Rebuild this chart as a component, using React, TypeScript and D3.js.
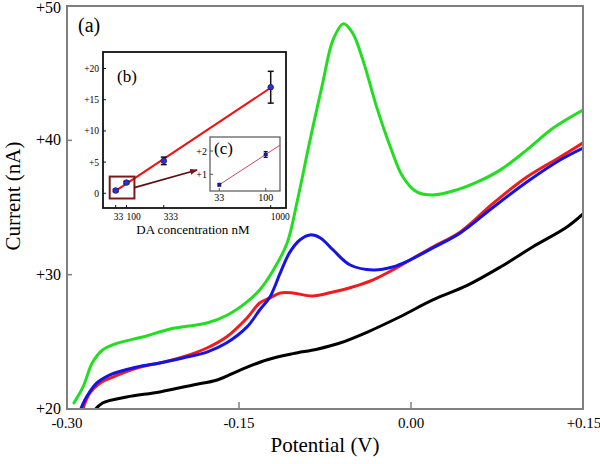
import React from "react";
import * as d3 from "d3";

// main voltammograms: [potential V, current nA]
const greenCurve: [number, number][] = [
  [-0.294, 20.45], [-0.286, 21.64], [-0.278, 23.43], [-0.269, 24.39], [-0.258, 24.84],
  [-0.242, 25.2], [-0.230, 25.45], [-0.210, 25.96], [-0.178, 26.40], [-0.160, 27.0],
  [-0.143, 27.97], [-0.132, 28.86], [-0.120, 30.35], [-0.108, 32.36], [-0.099, 35.56],
  [-0.088, 40.03], [-0.077, 44.27], [-0.068, 47.48], [-0.059, 48.67], [-0.051, 48.0],
  [-0.042, 45.99], [-0.030, 42.49], [-0.018, 39.51], [-0.007, 37.27], [0.005, 36.16],
  [0.019, 35.93], [0.040, 36.31], [0.058, 36.90], [0.078, 37.80], [0.101, 39.29],
  [0.124, 40.92], [0.150, 42.26],
];
const blueCurve: [number, number][] = [
  [-0.289, 19.8], [-0.283, 20.89], [-0.274, 21.94], [-0.263, 22.53], [-0.239, 23.13],
  [-0.219, 23.43], [-0.199, 23.80], [-0.178, 24.24], [-0.161, 24.91], [-0.143, 26.11],
  [-0.132, 27.37], [-0.123, 28.34], [-0.114, 30.13], [-0.106, 31.62], [-0.097, 32.58],
  [-0.088, 32.96], [-0.079, 32.73], [-0.068, 31.84], [-0.053, 30.72], [-0.033, 30.35],
  [-0.016, 30.57], [-0.001, 31.09], [0.019, 31.99], [0.043, 33.11], [0.072, 35.04],
  [0.101, 36.90], [0.130, 38.54], [0.150, 39.43],
];
const redCurve: [number, number][] = [
  [-0.287, 19.8], [-0.280, 21.19], [-0.271, 21.94], [-0.260, 22.38], [-0.239, 23.05],
  [-0.219, 23.43], [-0.199, 23.87], [-0.178, 24.54], [-0.161, 25.36], [-0.143, 26.78],
  [-0.132, 27.89], [-0.123, 28.27], [-0.114, 28.64], [-0.103, 28.64], [-0.086, 28.41],
  [-0.068, 28.71], [-0.051, 29.08], [-0.033, 29.61], [-0.016, 30.35], [-0.001, 31.09],
  [0.019, 32.06], [0.043, 33.18], [0.072, 35.34], [0.101, 37.27], [0.130, 38.76],
  [0.150, 39.81],
];
const blackCurve: [number, number][] = [
  [-0.277, 19.8], [-0.269, 20.45], [-0.248, 20.89], [-0.219, 21.27], [-0.190, 21.79],
  [-0.169, 22.16], [-0.149, 22.90], [-0.126, 23.65], [-0.103, 24.12], [-0.082, 24.45],
  [-0.062, 24.91], [-0.038, 25.73], [-0.010, 26.85], [0.019, 28.12], [0.049, 29.20],
  [0.078, 30.57], [0.106, 32.06], [0.136, 33.55], [0.150, 34.52],
];

const xTicks = [-0.30, -0.15, 0.0, 0.15];
const xTickLabels = ["-0.30", "-0.15", "0.00", "+0.15"];
const yTicks = [20, 30, 40, 50];
const yTickLabels = ["+20", "+30", "+40", "+50"];

// inset (b): calibration
const daConc = [33, 100, 333, 1000];
const daCurrent = [0.45, 1.72, 5.2, 17.0];
const daError = [0.2, 0.2, 0.6, 2.55];
const bYTicks = [0, 5, 10, 15, 20];
const bYLabels = ["0", "+5", "+10", "+15", "+20"];

// inset (c): zoom of the two lowest concentrations
const cConc = [33, 100];
const cCurrent = [0.55, 1.85];
const cError = [0.0, 0.13];
const cYTicks = [1, 2];
const cYLabels = ["+1", "+2"];

const serif = "'Times New Roman', 'Liberation Serif', serif";

export default function App() {
  const x = d3.scaleLinear().domain([-0.30, 0.15]).range([67, 583]);
  const y = d3.scaleLinear().domain([20, 50]).range([409, 6]);

  const line = d3.line<[number, number]>()
    .x(d => x(d[0]))
    .y(d => y(d[1]))
    .curve(d3.curveCatmullRom.alpha(0.5));

  const series = [
    { data: blackCurve, color: "#000000" },
    { data: redCurve, color: "#ee1c1c" },
    { data: blueCurve, color: "#1414e6" },
    { data: greenCurve, color: "#22dd22" },
  ];

  // inset b scales
  const b = { left: 103, top: 52, right: 286, bottom: 208 };
  const xb = d3.scaleLinear().domain([0, 1000]).range([110.4, 270.7]);
  const yb = d3.scaleLinear().domain([0, 20]).range([193.3, 68.5]);

  const mx = d3.mean(daConc)!;
  const my = d3.mean(daCurrent)!;
  const sxy = d3.sum(daConc.map((c, i) => (c - mx) * (daCurrent[i] - my)));
  const sxx = d3.sum(daConc.map(c => (c - mx) ** 2));
  const slope = sxy / sxx;
  const icpt = my - slope * mx;
  const fit = (c: number) => icpt + slope * c;

  // inset c scales
  const c = { left: 210, top: 137, right: 280, bottom: 191 };
  const xc = d3.scaleLinear().domain([33, 100]).range([219.3, 265.7]);
  const yc = d3.scaleLinear().domain([1, 2]).range([174.3, 151]);
  const cSlope = (cCurrent[1] - cCurrent[0]) / (cConc[1] - cConc[0]);
  const cEnd = xc.invert(c.right);
  const cFit = (v: number) => cCurrent[0] + cSlope * (v - cConc[0]);

  // highlight box around first two points
  const boxX0 = xb(daConc[0]) - 6;
  const boxX1 = xb(daConc[1]) + 8;
  const boxY0 = yb(daCurrent[1]) - 6;
  const boxY1 = yb(daCurrent[0]) + 8;

  return (
    <svg width={600} height={464}
      style={{ position: "absolute", left: 0, top: 0, background: "#fff", fontFamily: serif }}>
      <defs>
        <clipPath id="plotclip">
          <rect x={67} y={6} width={516} height={403} />
        </clipPath>
        <marker id="arrowhead" markerWidth={8} markerHeight={6} refX={7} refY={3} orient="auto"
          markerUnits="userSpaceOnUse">
          <path d="M0,0 L8,3 L0,6 Z" fill="#7a1515" />
        </marker>
      </defs>

      <g clipPath="url(#plotclip)">
        {series.map((s, i) => (
          <path key={i} d={line(s.data) ?? ""} fill="none" stroke={s.color} strokeWidth={3}
            strokeLinejoin="round" strokeLinecap="round" />
        ))}
      </g>

      {/* main frame */}
      <rect x={67} y={6} width={516} height={403} fill="none" stroke="#7f7f7f" strokeWidth={2} />
      {xTicks.slice(1, -1).map(t => (
        <line key={t} x1={x(t)} x2={x(t)} y1={409} y2={402} stroke="#7f7f7f" strokeWidth={1.5} />
      ))}
      {yTicks.slice(1, -1).map(t => (
        <line key={t} x1={67} x2={72} y1={y(t)} y2={y(t)} stroke="#7f7f7f" strokeWidth={1.5} />
      ))}
      {xTicks.map((t, i) => (
        <text key={t} x={i === 3 ? x(t) + 1 : x(t)} y={428} textAnchor="middle" fontSize={15}>
          {xTickLabels[i]}
        </text>
      ))}
      {yTicks.map((t, i) => (
        <text key={t} x={61} y={i === 3 ? y(t) + 7 : y(t) + 5} textAnchor="end" fontSize={16}>
          {yTickLabels[i]}
        </text>
      ))}
      <text x={325} y={452} textAnchor="middle" fontSize={21}>Potential (V)</text>
      <text transform="translate(20,196) rotate(-90)" textAnchor="middle" fontSize={21}>Current (nA)</text>
      <text x={78} y={32} fontSize={20}>(a)</text>

      {/* inset b */}
      <rect x={b.left} y={b.top} width={b.right - b.left} height={b.bottom - b.top} fill="#fff"
        stroke="#111" strokeWidth={1.8} />
      {bYTicks.map((t, i) => (
        <g key={t}>
          <line x1={b.left} x2={b.left + 3} y1={yb(t)} y2={yb(t)} stroke="#111" />
          <text x={99} y={yb(t) + 3.5} textAnchor="end" fontSize={9.5}>{bYLabels[i]}</text>
        </g>
      ))}
      {daConc.map(t => (
        <g key={t}>
          <line x1={xb(t)} x2={xb(t)} y1={b.bottom} y2={b.bottom - 3} stroke="#111" />
          <text x={t === 33 ? xb(t) - 2 : xb(t)} y={219.5} textAnchor="start" fontSize={9.5}>{t}</text>
        </g>
      ))}
      <text x={193} y={234} textAnchor="middle" fontSize={13}>DA concentration nM</text>
      <text x={117} y={82} fontSize={17}>(b)</text>
      <line x1={xb(28)} x2={xb(1000)} y1={yb(fit(28))} y2={yb(fit(1000))} stroke="#ee1111" strokeWidth={2} />
      {daConc.map((t, i) => (
        <g key={t}>
          <line x1={xb(t)} x2={xb(t)} y1={yb(daCurrent[i] - daError[i])} y2={yb(daCurrent[i] + daError[i])}
            stroke="#111" strokeWidth={1.5} />
          <line x1={xb(t) - 3} x2={xb(t) + 3} y1={yb(daCurrent[i] - daError[i])} y2={yb(daCurrent[i] - daError[i])}
            stroke="#111" strokeWidth={1.5} />
          <line x1={xb(t) - 3} x2={xb(t) + 3} y1={yb(daCurrent[i] + daError[i])} y2={yb(daCurrent[i] + daError[i])}
            stroke="#111" strokeWidth={1.5} />
          <circle cx={xb(t)} cy={yb(daCurrent[i])} r={2.8} fill="#2233dd" stroke="#1a1a66" strokeWidth={0.8} />
        </g>
      ))}
      <rect x={boxX0} y={boxY0} width={boxX1 - boxX0} height={boxY1 - boxY0} fill="none"
        stroke="#7a1a1a" strokeWidth={2} />
      <line x1={boxX1} x2={197} y1={(boxY0 + boxY1) / 2} y2={170} stroke="#5a1010" strokeWidth={1.8}
        markerEnd="url(#arrowhead)" />

      {/* inset c */}
      <rect x={c.left} y={c.top} width={c.right - c.left} height={c.bottom - c.top} fill="#fff"
        stroke="#555" strokeWidth={1.2} />
      {cYTicks.map((t, i) => (
        <g key={t}>
          <line x1={c.left} x2={c.left + 3} y1={yc(t)} y2={yc(t)} stroke="#555" />
          <text x={207} y={yc(t) + 3.5} textAnchor="end" fontSize={10}>{cYLabels[i]}</text>
        </g>
      ))}
      {cConc.map(t => (
        <g key={t}>
          <line x1={xc(t)} x2={xc(t)} y1={c.bottom} y2={c.bottom - 3} stroke="#555" />
          <text x={xc(t)} y={201} textAnchor="middle" fontSize={10}>{t}</text>
        </g>
      ))}
      <text x={214} y={154} fontSize={17}>(c)</text>
      <line x1={xc(cConc[0])} x2={xc(cEnd)} y1={yc(cFit(cConc[0]))} y2={yc(cFit(cEnd))}
        stroke="#c04a6a" strokeWidth={1} />
      {cConc.map((t, i) => (
        <g key={t}>
          {cError[i] > 0 && (
            <g stroke="#111" strokeWidth={1}>
              <line x1={xc(t)} x2={xc(t)} y1={yc(cCurrent[i] - cError[i])} y2={yc(cCurrent[i] + cError[i])} />
              <line x1={xc(t) - 2} x2={xc(t) + 2} y1={yc(cCurrent[i] - cError[i])} y2={yc(cCurrent[i] - cError[i])} />
              <line x1={xc(t) - 2} x2={xc(t) + 2} y1={yc(cCurrent[i] + cError[i])} y2={yc(cCurrent[i] + cError[i])} />
            </g>
          )}
          <rect x={xc(t) - 2} y={yc(cCurrent[i]) - 2} width={4} height={4} fill="#1a1a88" />
        </g>
      ))}
    </svg>
  );
}
